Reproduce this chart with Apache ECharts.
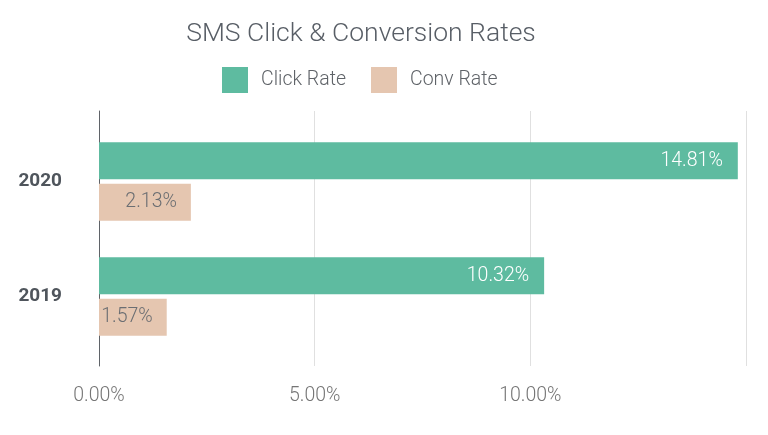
<!DOCTYPE html>
<html>
<head>
<meta charset="utf-8">
<script src="https://cdn.jsdelivr.net/npm/echarts@6/dist/echarts.min.js"></script>
<style>html,body{margin:0;padding:0;background:#fff}#c{width:768px;height:435px}</style>
</head>
<body>
<div id="c"></div>
<script>
const categories = ['2020', '2019'];
const clickRate = [14.81, 10.32];
const convRate = [2.13, 1.57];
const xTicks = [0, 5, 10, 15];

const chart = echarts.init(document.getElementById('c'));
const font = 'Roboto, "Noto Sans", sans-serif';
chart.setOption({
  backgroundColor: '#ffffff',
  animation: false,
  title: {
    text: 'SMS Click & Conversion Rates',
    left: 356, textAlign: 'center', top: 16,
    textStyle: { fontFamily: font, fontSize: 26.5, fontWeight: 300, color: '#585e66' }
  },
  legend: {
    top: 67, left: 222, padding: 0,
    itemWidth: 26, itemHeight: 26, itemGap: 25,
    icon: 'rect',
    data: ['Click Rate', 'Conv Rate'],
    textStyle: { fontFamily: font, fontSize: 19.5, fontWeight: 300, color: '#5f6368', padding: [0, 0, 0, 8] }
  },
  grid: [
    { left: 99, right: 22, top: 111, bottom: 69 },
    { left: 99, right: 22, top: 124, bottom: 81 }
  ],
  xAxis: [
    {
      gridIndex: 0, type: 'value', min: xTicks[0], max: xTicks[xTicks.length - 1], interval: 5,
      axisLine: { show: false }, axisTick: { show: false },
      splitLine: { show: true, lineStyle: { color: '#e0e0e0', width: 1 } },
      axisLabel: {
        margin: 20, fontFamily: font, fontSize: 19.5, fontWeight: 300, color: '#757575',
        formatter: v => v === 15 ? '' : v.toFixed(2) + '%'
      }
    },
    {
      gridIndex: 1, type: 'value', min: xTicks[0], max: xTicks[xTicks.length - 1], interval: 5,
      show: false
    }
  ],
  yAxis: [
    {
      gridIndex: 0, type: 'category', data: categories, inverse: true,
      axisLine: { show: true, lineStyle: { color: '#5f6368', width: 1 } },
      axisTick: { show: false }, axisLabel: { show: false }, splitLine: { show: false }
    },
    {
      gridIndex: 1, type: 'category', data: categories, inverse: true,
      axisLine: { show: false }, axisTick: { show: false },
      axisLabel: { margin: 37, fontFamily: font, fontSize: 19, fontWeight: 'bold', color: '#4f555c' }
    }
  ],
  series: [
    {
      name: 'Click Rate', type: 'bar', xAxisIndex: 1, yAxisIndex: 1,
      data: clickRate, barWidth: 37, barGap: '12%',
      itemStyle: { color: '#5ebba0' },
      label: {
        show: true, position: 'insideRight', distance: 15,
        fontFamily: font, fontSize: 19.5, fontWeight: 300, color: '#ffffff',
        formatter: p => p.value.toFixed(2) + '%'
      }
    },
    {
      name: 'Conv Rate', type: 'bar', xAxisIndex: 1, yAxisIndex: 1,
      data: convRate, barWidth: 37, barGap: '12%',
      itemStyle: { color: '#e5c6b0' },
      label: {
        show: true, position: 'insideRight', distance: 14,
        fontFamily: font, fontSize: 19.5, fontWeight: 300, color: '#6b6e72',
        formatter: p => p.value.toFixed(2) + '%'
      }
    }
  ]
});
</script>
</body>
</html>
